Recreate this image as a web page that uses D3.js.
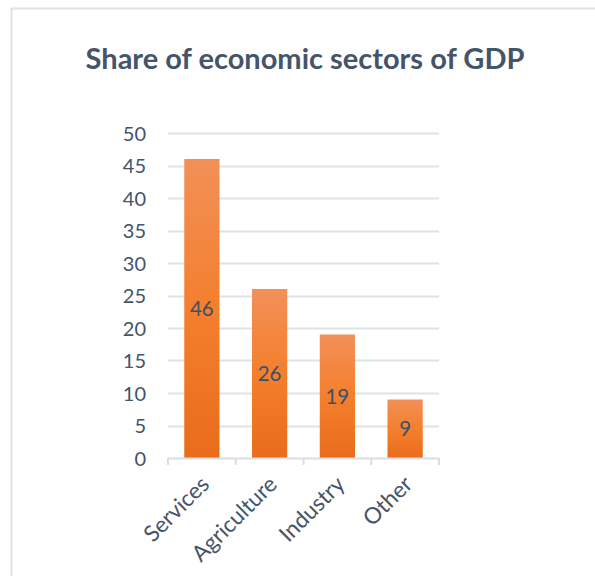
<!DOCTYPE html>
<html>
<head>
<meta charset="utf-8">
<script src="https://cdn.jsdelivr.net/npm/d3@7/dist/d3.min.js"></script>
<style>
  html, body { margin: 0; padding: 0; background: #ffffff; }
  svg { display: block; }
</style>
</head>
<body>
<svg id="chart" width="595" height="576"></svg>
<script>
// Sector shares of GDP (%)
const categories = ["Services", "Agriculture", "Industry", "Other"];
const values = [46, 26, 19, 9];
const yTicks = [0, 5, 10, 15, 20, 25, 30, 35, 40, 45, 50];
const titleText = "Share of economic sectors of GDP";

const W = 595, H = 576;
const margin = { left: 168, right: 156, top: 133, bottom: 118 };
const textColor = "#44546A";
const font = "Lato, 'Open Sans', sans-serif";

const svg = d3.select("#chart");

// Chart area frame (light border on top and left)
svg.append("path")
  .attr("d", `M11.5,${H} V8.5 H${W}`)
  .attr("fill", "none")
  .attr("stroke", "#DEE3EA")
  .attr("stroke-width", 2);

// Title
svg.append("text")
  .attr("x", 305)
  .attr("y", 69)
  .attr("text-anchor", "middle")
  .attr("font-family", font)
  .attr("font-weight", 700)
  .attr("font-size", 29)
  .attr("fill", textColor)
  .text(titleText);

const x = d3.scaleBand()
  .domain(categories)
  .range([margin.left, W - margin.right])
  .paddingInner(0.48)
  .paddingOuter(0.24);

const y = d3.scaleLinear()
  .domain([0, 50])
  .range([H - margin.bottom, margin.top]);

// Gradient fill for the bars
const defs = svg.append("defs");
const grad = defs.append("linearGradient")
  .attr("id", "barGrad")
  .attr("x1", 0).attr("y1", 0).attr("x2", 0).attr("y2", 1);
grad.append("stop").attr("offset", "0%").attr("stop-color", "#F29058");
grad.append("stop").attr("offset", "50%").attr("stop-color", "#F47F2D");
grad.append("stop").attr("offset", "100%").attr("stop-color", "#E96C1B");

// Horizontal gridlines
svg.append("g")
  .selectAll("line")
  .data(yTicks.filter(d => d > 0))
  .join("line")
  .attr("x1", margin.left)
  .attr("x2", W - margin.right)
  .attr("y1", d => Math.round(y(d)) + 0.5)
  .attr("y2", d => Math.round(y(d)) + 0.5)
  .attr("stroke", "#DEE3EA")
  .attr("stroke-width", 2);

// Y axis labels
const yAxis = d3.axisLeft(y).tickValues(yTicks).tickSize(0).tickPadding(0);
const yg = svg.append("g")
  .attr("transform", `translate(${146},0)`)
  .call(yAxis);
yg.select(".domain").remove();
yg.selectAll("text")
  .attr("font-family", font)
  .attr("font-size", 20)
  .attr("fill", textColor)
  .attr("dy", "0.36em");

// Bars
svg.append("g")
  .selectAll("rect")
  .data(values)
  .join("rect")
  .attr("x", (d, i) => x(categories[i]))
  .attr("y", d => y(d))
  .attr("width", x.bandwidth())
  .attr("height", d => y(0) - y(d))
  .attr("fill", "url(#barGrad)");

// Value labels centred in each bar
svg.append("g")
  .selectAll("text")
  .data(values)
  .join("text")
  .attr("x", (d, i) => x(categories[i]) + x.bandwidth() / 2)
  .attr("y", d => (y(d) + y(0)) / 2)
  .attr("dy", "0.36em")
  .attr("text-anchor", "middle")
  .attr("font-family", font)
  .attr("font-size", 20.5)
  .attr("fill", "#404F66")
  .text(d => d);

// X axis with category-boundary ticks
const x0 = margin.left, x1 = W - margin.right;
const step = (x1 - x0) / categories.length;
const axisG = svg.append("g");
axisG.append("line")
  .attr("x1", x0).attr("x2", x1)
  .attr("y1", y(0) + 0.5).attr("y2", y(0) + 0.5)
  .attr("stroke", "#D9DEE5").attr("stroke-width", 2);
axisG.selectAll("line.tick")
  .data(d3.range(categories.length + 1))
  .join("line")
  .attr("class", "tick")
  .attr("x1", i => x0 + i * step)
  .attr("x2", i => x0 + i * step)
  .attr("y1", y(0))
  .attr("y2", y(0) + 7)
  .attr("stroke", "#D9DEE5").attr("stroke-width", 2);

// Rotated category labels
axisG.selectAll("text")
  .data(categories)
  .join("text")
  .attr("transform", d => `translate(${x(d) + x.bandwidth() / 2 + 3},${y(0) + 22}) rotate(-45)`)
  .attr("text-anchor", "end")
  .attr("dy", "0.36em")
  .attr("font-family", font)
  .attr("font-size", 22.5)
  .attr("fill", textColor)
  .text(d => d);
</script>
</body>
</html>
